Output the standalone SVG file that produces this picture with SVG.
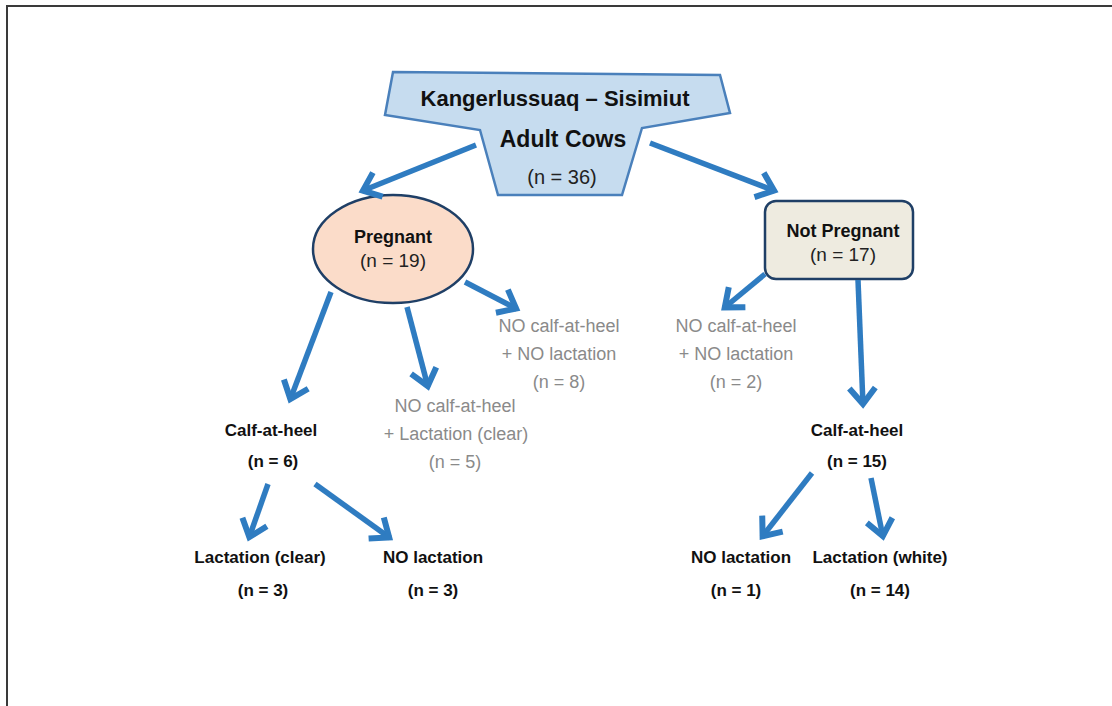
<svg xmlns="http://www.w3.org/2000/svg" width="1112" height="706" viewBox="0 0 1112 706">
<style>
text{font-family:"Liberation Sans",Arial,sans-serif;text-anchor:middle}
.b{font-weight:bold;fill:#111}
.r{fill:#222}
.g{fill:#8a8a8a;font-size:18px}
.conn line{stroke:#2f7cc1;stroke-width:5.5;fill:none}
</style>
<defs>
<marker id="ah" markerUnits="userSpaceOnUse" viewBox="-25 -20 35 40" refX="0" refY="0" markerWidth="35" markerHeight="40" orient="auto" overflow="visible">
<path d="M-17,-13 L-1,0 L-17,13" fill="none" stroke="#2f7cc1" stroke-width="6" stroke-linejoin="miter"/>
</marker>
</defs>
<rect width="1112" height="706" fill="#fff"/>
<path d="M7,706 L7,6 L1112,6" fill="none" stroke="#3a3a3a" stroke-width="2"/>

<g id="root">
<polygon points="393,72 720,75 730,113 642,128 622,195 498,195 480,130 385,115" fill="#c6dcef" stroke="#4a80bb" stroke-width="2.5"/>
<text class="b" x="555" y="106" font-size="22">Kangerlussuaq – Sisimiut</text>
<text class="b" x="563" y="147" font-size="23">Adult Cows</text>
<text class="r" x="562" y="184" font-size="20">(n = 36)</text>
</g>

<g id="pregnant">
<ellipse cx="393" cy="249" rx="80" ry="54" fill="#fbdcc9" stroke="#1f3f66" stroke-width="2.5"/>
<text class="b" x="393" y="243" font-size="18">Pregnant</text>
<text class="r" x="393" y="267" font-size="19">(n = 19)</text>
</g>

<g id="notpregnant">
<rect x="765" y="201" width="148" height="78" rx="11" fill="#eeebe0" stroke="#1f3f66" stroke-width="2.5"/>
<text class="b" x="843" y="237" font-size="18">Not Pregnant</text>
<text class="r" x="843" y="261" font-size="19">(n = 17)</text>
</g>

<g id="p_calf">
<text class="b" x="271" y="436" font-size="17">Calf-at-heel</text>
<text class="b" x="273" y="467" font-size="17">(n = 6)</text>
</g>

<g id="p_nocalf_lact">
<text class="g" x="455" y="412">NO calf-at-heel</text>
<text class="g" x="456" y="440">+ Lactation (clear)</text>
<text class="g" x="455" y="468">(n = 5)</text>
</g>

<g id="p_nocalf_nolact">
<text class="g" x="559" y="332">NO calf-at-heel</text>
<text class="g" x="559" y="360">+ NO lactation</text>
<text class="g" x="559" y="388">(n = 8)</text>
</g>

<g id="np_nocalf_nolact">
<text class="g" x="736" y="332">NO calf-at-heel</text>
<text class="g" x="736" y="360">+ NO lactation</text>
<text class="g" x="736" y="388">(n = 2)</text>
</g>

<g id="np_calf">
<text class="b" x="857" y="436" font-size="17">Calf-at-heel</text>
<text class="b" x="857" y="467" font-size="17">(n = 15)</text>
</g>

<g id="p_calf_lact">
<text class="b" x="260" y="563" font-size="17">Lactation (clear)</text>
<text class="b" x="263" y="596" font-size="17">(n = 3)</text>
</g>

<g id="p_calf_nolact">
<text class="b" x="433" y="563" font-size="17">NO lactation</text>
<text class="b" x="433" y="596" font-size="17">(n = 3)</text>
</g>

<g id="np_calf_nolact">
<text class="b" x="741" y="563" font-size="17">NO lactation</text>
<text class="b" x="736" y="596" font-size="17">(n = 1)</text>
</g>

<g id="np_calf_lact">
<text class="b" x="880" y="563" font-size="17">Lactation (white)</text>
<text class="b" x="880" y="596" font-size="17">(n = 14)</text>
</g>

<g id="connectors" class="conn">
<line x1="476" y1="145" x2="362" y2="191" marker-end="url(#ah)"/>
<line x1="650" y1="143" x2="775" y2="191" marker-end="url(#ah)"/>
<line x1="331" y1="292" x2="290" y2="400" marker-end="url(#ah)"/>
<line x1="407" y1="307" x2="428" y2="387" marker-end="url(#ah)"/>
<line x1="465" y1="282" x2="517" y2="309" marker-end="url(#ah)"/>
<line x1="765" y1="274" x2="724" y2="308" marker-end="url(#ah)"/>
<line x1="858" y1="280" x2="863" y2="405" marker-end="url(#ah)"/>
<line x1="268" y1="484" x2="249" y2="538" marker-end="url(#ah)"/>
<line x1="315" y1="484" x2="390" y2="538" marker-end="url(#ah)"/>
<line x1="812" y1="473" x2="762" y2="537" marker-end="url(#ah)"/>
<line x1="871" y1="478" x2="883" y2="537" marker-end="url(#ah)"/>
</g>
</svg>
